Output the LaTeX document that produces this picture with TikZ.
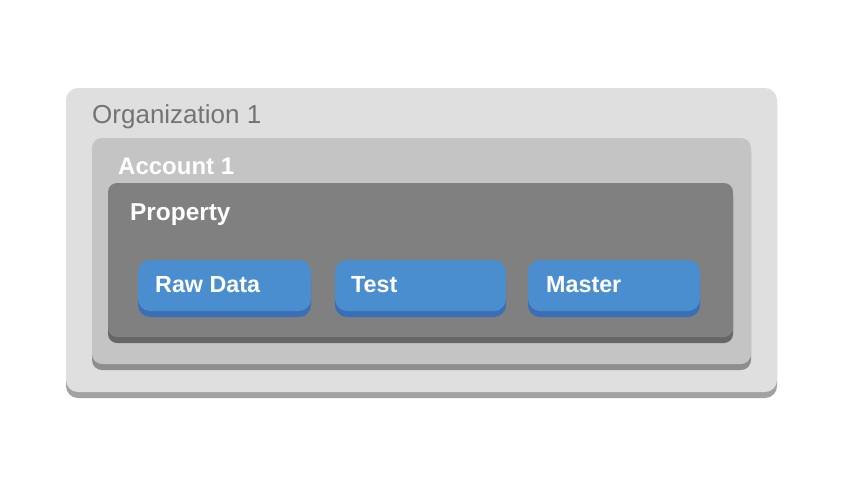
\documentclass[tikz,border=0pt]{standalone}
\usepackage{fontspec}
\setmainfont{Liberation Sans}
\definecolor{orgfill}{HTML}{DFDFDF}
\definecolor{orgshadow}{HTML}{A2A2A2}
\definecolor{accfill}{HTML}{C4C4C4}
\definecolor{accshadow}{HTML}{8E8E8E}
\definecolor{propfill}{HTML}{808080}
\definecolor{propshadow}{HTML}{666666}
\definecolor{btnfill}{HTML}{4A8ECF}
\definecolor{btnshadow}{HTML}{3A6FB5}
\definecolor{orgtext}{HTML}{747474}
\begin{document}
\begin{tikzpicture}[x=1pt,y=-1pt,
  lbl/.style={anchor=base west,inner sep=0pt},
  btnlbl/.style={anchor=base west,inner sep=0pt,text=white,font=\bfseries\fontsize{23.3}{26}\selectfont}]
\useasboundingbox (0,0) rectangle (850,490);
\fill[white] (0,0) rectangle (850,490);
% Organization
\fill[orgshadow,rounded corners=12pt] (66,93) rectangle (777,398);
\fill[orgfill,rounded corners=12pt] (66,88) rectangle (777,392);
% Account
\fill[accshadow,rounded corners=10pt] (92,143) rectangle (751,370);
\fill[accfill,rounded corners=10pt] (92,138) rectangle (751,364);
% Property
\fill[propshadow,rounded corners=9pt] (108,188) rectangle (733,343);
\fill[propfill,rounded corners=9pt] (108,183) rectangle (733,337);
% buttons
\foreach \a/\b in {138/311,335/506,528/700}{
  \fill[btnshadow,rounded corners=12pt] (\a,265) rectangle (\b,317);
  \fill[btnfill,rounded corners=12pt] (\a,260) rectangle (\b,311);
}
\node[lbl,text=orgtext,font=\fontsize{26}{30}\selectfont] (org) at (92,123) {Organization 1};
\node[lbl,text=white,font=\bfseries\fontsize{24}{28}\selectfont] (acc) at (118,174) {Account 1};
\node[lbl,text=white,font=\bfseries\fontsize{24.4}{28}\selectfont] (prop) at (130,220) {Property};
\node[btnlbl] (raw) at (155,292) {Raw Data};
\node[btnlbl] (test) at (351,292) {Test};
\node[btnlbl] (master) at (546,292) {Master};
\end{tikzpicture}
\end{document}
